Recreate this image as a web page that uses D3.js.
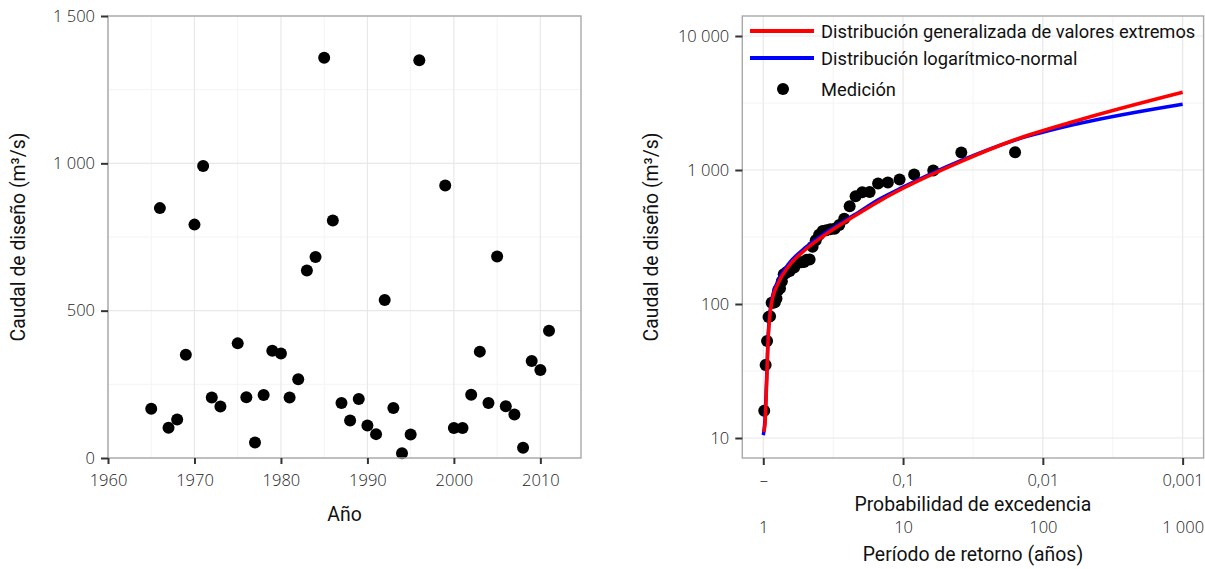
<!DOCTYPE html>
<html>
<head>
<meta charset="utf-8">
<script src="https://cdn.jsdelivr.net/npm/d3@7/dist/d3.min.js"></script>
<style>
  body { margin: 0; background: #fff; }
  .tick-label { font-family: "Open Sans", sans-serif; font-weight: 300; font-size: 16.5px; fill: #222; }
  .title { font-family: Roboto, sans-serif; font-size: 19.4px; fill: #111; }
  .legend-label { font-family: Roboto, sans-serif; font-size: 18.3px; fill: #111; }
</style>
</head>
<body>
<div id="chart"></div>
<script>
// annual peak discharge (m3/s)
const years = [1965, 1966, 1967, 1968, 1969, 1970, 1971, 1972, 1973, 1975, 1976, 1977, 1978, 1979,
  1980, 1981, 1982, 1983, 1984, 1985, 1986, 1987, 1988, 1989, 1990, 1991, 1992, 1993, 1994, 1995,
  1996, 1999, 2000, 2001, 2002, 2003, 2004, 2005, 2006, 2007, 2008, 2009, 2010, 2011];
const discharge = [167, 848, 103, 131, 350, 792, 991, 205, 175, 389, 206, 53, 214, 364,
  355, 205, 267, 636, 682, 1358, 806, 187, 127, 200, 110, 81, 536, 170, 16, 80,
  1350, 925, 102, 102, 215, 361, 187, 684, 176, 148, 35, 329, 299, 432];

const yearTicks = [1960, 1970, 1980, 1990, 2000, 2010];
const yearMinor = [1965, 1975, 1985, 1995, 2005];
const dischargeTicks = [0, 500, 1000, 1500];
const dischargeMinor = [250, 750, 1250];

const measuredProb = [0.0158, 0.0383, 0.0608, 0.0833, 0.1059, 0.1284, 0.1509, 0.1734, 0.1959, 0.2185,
  0.2410, 0.2635, 0.2860, 0.3086, 0.3311, 0.3536, 0.3761, 0.3986, 0.4212, 0.4437,
  0.4662, 0.4887, 0.5113, 0.5338, 0.5563, 0.5788, 0.6014, 0.6239, 0.6464, 0.6689,
  0.6914, 0.7140, 0.7365, 0.7590, 0.7815, 0.8041, 0.8266, 0.8491, 0.8716, 0.8941,
  0.9167, 0.9392, 0.9617, 0.9842];

// fitted curves
const gevProb = [0.995, 0.973, 0.946, 0.921, 0.871, 0.781, 0.662, 0.503, 0.382, 0.221, 0.146, 0.1, 0.039, 0.0164, 0.00543, 0.001];
const gevQ = [11.1, 12.5, 25.7, 57, 102, 143, 190, 253, 315, 455, 590, 730, 1150, 1660, 2370, 3800];
const lnProb = [0.999, 0.973, 0.946, 0.921, 0.871, 0.781, 0.662, 0.503, 0.382, 0.221, 0.146, 0.1, 0.039, 0.0164, 0.00543, 0.001];
const lnQ = [10.5, 13.5, 28, 60, 106, 150, 198, 262, 325, 465, 610, 745, 1170, 1650, 2230, 3100];

const probTicks = [1, 0.1, 0.01, 0.001];
const probMinor = [0.316, 0.0316, 0.00316];
const probLabels = ["–", "0,1", "0,01", "0,001"];
const returnLabels = ["1", "10", "100", "1 000"];
const qTicks = [10, 100, 1000, 10000];
const qMinor = [31.6, 316, 3162];

const legendLabels = ["Distribución generalizada de valores extremos", "Distribución logarítmico-normal", "Medición"];
const legendColors = ["#ff0000", "#0000ff", "#000"];

const fmt = d3.formatLocale({ decimal: ",", thousands: " ", grouping: [3], currency: ["", ""] }).format(",");

const svg = d3.select("#chart").append("svg")
  .attr("width", 1205)
  .attr("height", 569);

function panel(g, x, y, xMajor, xMinor, yMajor, yMinor) {
  const [x0, x1] = x.range();
  const [y0, y1] = y.range();
  g.append("rect")
    .attr("x", x0).attr("y", y1)
    .attr("width", x1 - x0).attr("height", y0 - y1)
    .attr("fill", "#fff");
  g.selectAll(".minor-x").data(xMinor).join("line")
    .attr("x1", d => x(d)).attr("x2", d => x(d))
    .attr("y1", y1).attr("y2", y0)
    .attr("stroke", "#f4f4f4").attr("stroke-width", 1);
  g.selectAll(".minor-y").data(yMinor).join("line")
    .attr("y1", d => y(d)).attr("y2", d => y(d))
    .attr("x1", x0).attr("x2", x1)
    .attr("stroke", "#f4f4f4").attr("stroke-width", 1);
  g.selectAll(".major-x").data(xMajor).join("line")
    .attr("x1", d => x(d)).attr("x2", d => x(d))
    .attr("y1", y1).attr("y2", y0)
    .attr("stroke", "#e8e8e8").attr("stroke-width", 1.2);
  g.selectAll(".major-y").data(yMajor).join("line")
    .attr("y1", d => y(d)).attr("y2", d => y(d))
    .attr("x1", x0).attr("x2", x1)
    .attr("stroke", "#e8e8e8").attr("stroke-width", 1.2);
}

function border(g, x, y) {
  const [x0, x1] = x.range();
  const [y0, y1] = y.range();
  g.append("rect")
    .attr("x", x0).attr("y", y1)
    .attr("width", x1 - x0).attr("height", y0 - y1)
    .attr("fill", "none")
    .attr("stroke", "#a8a8a8")
    .attr("stroke-width", 1.4);
}

function styleAxis(a) {
  a.select(".domain").remove();
  a.selectAll(".tick line").attr("stroke", "#333").attr("stroke-width", 2);
  a.selectAll(".tick text").attr("class", "tick-label").attr("fill", null);
}

// ---------- left: discharge by year ----------
const left = svg.append("g");
const xYear = d3.scaleLinear().domain([1960, 2014.7]).range([108, 581]);
const yDis = d3.scaleLinear().domain([0, 1500]).range([458, 16]);

panel(left, xYear, yDis, yearTicks, yearMinor, dischargeTicks, dischargeMinor);

left.append("g")
  .selectAll("circle")
  .data(years)
  .join("circle")
  .attr("cx", d => xYear(d))
  .attr("cy", (d, i) => yDis(discharge[i]))
  .attr("r", 6)
  .attr("fill", "#000");

border(left, xYear, yDis);

left.append("g")
  .attr("transform", "translate(0,458)")
  .call(d3.axisBottom(xYear).tickValues(yearTicks).tickFormat(d3.format("d")).tickSize(6).tickPadding(10))
  .call(styleAxis);

left.append("g")
  .attr("transform", "translate(108,0)")
  .call(d3.axisLeft(yDis).tickValues(dischargeTicks).tickFormat(fmt).tickSize(7).tickPadding(6))
  .call(styleAxis);

left.append("text")
  .attr("class", "title")
  .attr("x", (108 + 581) / 2)
  .attr("y", 521)
  .attr("text-anchor", "middle")
  .text("Año");

left.append("text")
  .attr("class", "title")
  .attr("transform", "translate(25,237) rotate(-90)")
  .attr("text-anchor", "middle")
  .text("Caudal de diseño (m³/s)");

// ---------- right: frequency analysis ----------
const right = svg.append("g");
const xProb = d3.scaleLog().domain([Math.pow(10, 0.15), Math.pow(10, -3.15)]).range([742.3, 1203.6]);
const yQ = d3.scaleLog().domain([Math.pow(10, 1 - 20 / 134), Math.pow(10, 4 + 20 / 134)]).range([458, 16]);

panel(right, xProb, yQ, probTicks, probMinor, qTicks, qMinor);

const measured = discharge.slice().sort((a, b) => b - a);

right.append("g")
  .selectAll("circle")
  .data(measured)
  .join("circle")
  .attr("cx", (d, i) => xProb(measuredProb[i]))
  .attr("cy", d => yQ(d))
  .attr("r", 6)
  .attr("fill", "#000");

const curveLine = d3.line()
  .x(d => xProb(d[0]))
  .y(d => yQ(d[1]))
  .curve(d3.curveMonotoneX);

right.append("path")
  .datum(lnProb.map((p, i) => [p, lnQ[i]]))
  .attr("d", curveLine)
  .attr("fill", "none")
  .attr("stroke", "#0000ff")
  .attr("stroke-width", 3.5);

right.append("path")
  .datum(gevProb.map((p, i) => [p, gevQ[i]]))
  .attr("d", curveLine)
  .attr("fill", "none")
  .attr("stroke", "#ff0000")
  .attr("stroke-width", 3.5);

border(right, xProb, yQ);

right.append("g")
  .attr("transform", "translate(0,458)")
  .call(d3.axisBottom(xProb).tickValues(probTicks).tickFormat((d, i) => probLabels[i]).tickSize(7).tickPadding(9))
  .call(styleAxis);

right.append("g")
  .attr("transform", "translate(0,458)")
  .call(d3.axisBottom(xProb).tickValues(probTicks).tickFormat((d, i) => returnLabels[i]).tickSize(0).tickPadding(63))
  .call(styleAxis);

right.append("g")
  .attr("transform", "translate(742.3,0)")
  .call(d3.axisLeft(yQ).tickValues(qTicks).tickFormat(fmt).tickSize(7).tickPadding(6))
  .call(styleAxis);

right.append("text")
  .attr("class", "title")
  .attr("x", (742.3 + 1203.6) / 2)
  .attr("y", 511)
  .attr("text-anchor", "middle")
  .text("Probabilidad de excedencia");

right.append("text")
  .attr("class", "title")
  .attr("x", (742.3 + 1203.6) / 2)
  .attr("y", 561)
  .attr("text-anchor", "middle")
  .text("Período de retorno (años)");

right.append("text")
  .attr("class", "title")
  .attr("transform", "translate(658,237) rotate(-90)")
  .attr("text-anchor", "middle")
  .text("Caudal de diseño (m³/s)");

// legend, top-left inside the panel
const legend = right.append("g").attr("transform", "translate(750,0)");
const rowY = [31, 58, 89];
legendLabels.forEach((label, i) => {
  if (i < 2) {
    legend.append("line")
      .attr("x1", 0).attr("x2", 64)
      .attr("y1", rowY[i]).attr("y2", rowY[i])
      .attr("stroke", legendColors[i])
      .attr("stroke-width", 4);
  } else {
    legend.append("circle")
      .attr("cx", 33).attr("cy", rowY[i])
      .attr("r", 6)
      .attr("fill", legendColors[i]);
  }
  legend.append("text")
    .attr("class", "legend-label")
    .attr("x", 71)
    .attr("y", rowY[i] + 7)
    .text(label);
});
</script>
</body>
</html>
